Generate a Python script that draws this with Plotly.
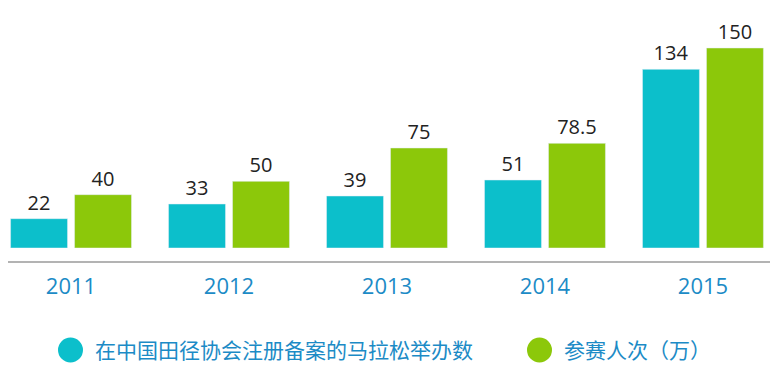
import plotly.graph_objects as go

years = ["2011", "2012", "2013", "2014", "2015"]
marathons = [22, 33, 39, 51, 134]
participants = [40, 50, 75, 78.5, 150]
legend_names = ["在中国田径协会注册备案的马拉松举办数", "参赛人次（万）"]

TEAL = "#0CBFCB"
GREEN = "#8CC80A"
BLUE = "#1C8BC6"
FONT = "Open Sans, Noto Sans CJK SC, sans-serif"

W, HT = 770, 360
fig = go.Figure()
fig.add_trace(go.Bar(x=years, y=marathons, name=legend_names[0], marker_color=TEAL,
                     text=[str(v) for v in marathons], textposition="outside",
                     textfont=dict(size=20, color="#222222", family=FONT),
                     cliponaxis=False, showlegend=False))
fig.add_trace(go.Bar(x=years, y=participants, name=legend_names[1], marker_color=GREEN,
                     text=[str(v) for v in participants], textposition="outside",
                     textfont=dict(size=20, color="#222222", family=FONT),
                     cliponaxis=False, showlegend=False))

H = 240.0
def py(pix):
    return (240 - pix) / H

shapes = [dict(type="line", xref="paper", yref="paper", x0=-0.02, x1=1,
               y0=py(254), y1=py(254), line=dict(color="#9A9A9A", width=1.5))]
annotations = []
legend_pos = [(62.5, 85), (531.5, 554)]
colors = [TEAL, GREEN]
for (cx, tx), name, c in zip(legend_pos, legend_names, colors):
    shapes.append(dict(type="circle", xref="paper", yref="paper",
                       xsizemode="pixel", ysizemode="pixel",
                       xanchor=cx / W, yanchor=py(342),
                       x0=-12.5, x1=12.5, y0=-12.5, y1=12.5,
                       fillcolor=c, line=dict(width=0)))
    annotations.append(dict(xref="paper", yref="paper", x=tx / W, y=py(342),
                            xanchor="left", yanchor="middle", showarrow=False,
                            text=name, font=dict(size=21, color=BLUE, family=FONT)))

fig.update_layout(
    width=W, height=HT,
    margin=dict(l=0, r=0, t=0, b=120),
    paper_bgcolor="white", plot_bgcolor="white",
    barmode="group", bargap=0.19, bargroupgap=0.11,
    shapes=shapes, annotations=annotations,
    xaxis=dict(range=[-0.399, 4.475], showgrid=False, zeroline=False, showline=False,
               ticks="", ticklabelstandoff=23,
               tickfont=dict(size=22, color=BLUE, family=FONT)),
    yaxis=dict(range=[0, 180], visible=False),
    showlegend=False,
)
fig.write_html("out.html")
